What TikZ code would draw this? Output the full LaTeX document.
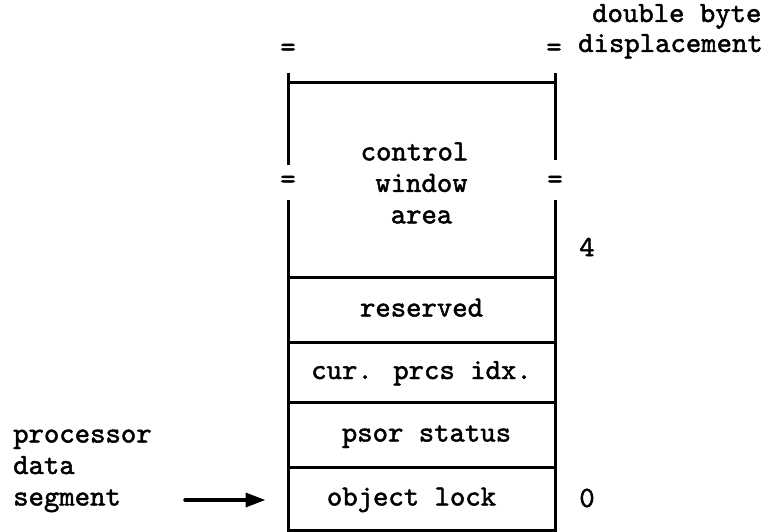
\documentclass[tikz,border=0pt]{standalone}
\usepackage{fontspec}
\newfontfamily\tw{lmmono10-regular.otf}[FakeBold=1.6]
\usetikzlibrary{arrows.meta}
\begin{document}
\begin{tikzpicture}[x=1pt,y=-1pt,
  txt/.style={font=\fontsize{29.3}{31.5}\selectfont\tw, inner sep=0pt},
  cell/.style={draw, line width=3pt, minimum width=267pt, inner sep=0pt,
    text height=16pt, text depth=2pt, txt},
  rule/.style={line width=3pt},
  ptr/.style={line width=3.5pt, line cap=round, -{Triangle[length=20pt,width=14pt]}}]
\useasboundingbox (0,0) rectangle (770,532);
% control window area
\draw[rule] (288,73) -- (288,165);
\draw[rule] (288,200) -- (288,277);
\draw[rule] (555,73) -- (555,160);
\draw[rule] (555,200) -- (555,277);
\draw[rule] (288,83) -- (555,83);
\node[txt, align=center] (cwa) at (421.5,183) {control\hspace*{14pt}\\window\\area};
% cells
\node[cell, minimum height=65pt] (res) at (421.5,309.5) {reserved};
\node[cell, minimum height=60pt] (cur) at (421.5,372) {cur. prcs idx.};
\node[cell, minimum height=65pt] (psor) at (421.5,434.5) {\hspace*{10pt}psor status};
\node[cell, minimum height=63pt] (lock) at (421.5,498.5) {object lock\hspace*{20pt}};
% equals marks
\node[txt] (eqtl) at (288,50) {=};
\node[txt] (eqtr) at (554,50) {=};
\node[txt] (eqml) at (288,182) {=};
\node[txt] (eqmr) at (555,182) {=};
% right labels
\node[txt, anchor=base west] (dbl) at (592,22) {double byte};
\node[txt, anchor=base west] (disp) at (578,52) {displacement};
\node[txt] (four) at (587,247) {4};
\node[txt] (zero) at (587,498) {0};
% left labels
\node[txt, anchor=base west] (lp) at (13,442.5) {processor};
\node[txt, anchor=base west] (ld) at (13,474) {data};
\node[txt, anchor=base west] (ls) at (13,505.5) {segment};
\coordinate (astart) at (185,500);
\draw[ptr, shorten >=21pt] (astart) -- (astart -| lock.west);
\end{tikzpicture}
\end{document}
